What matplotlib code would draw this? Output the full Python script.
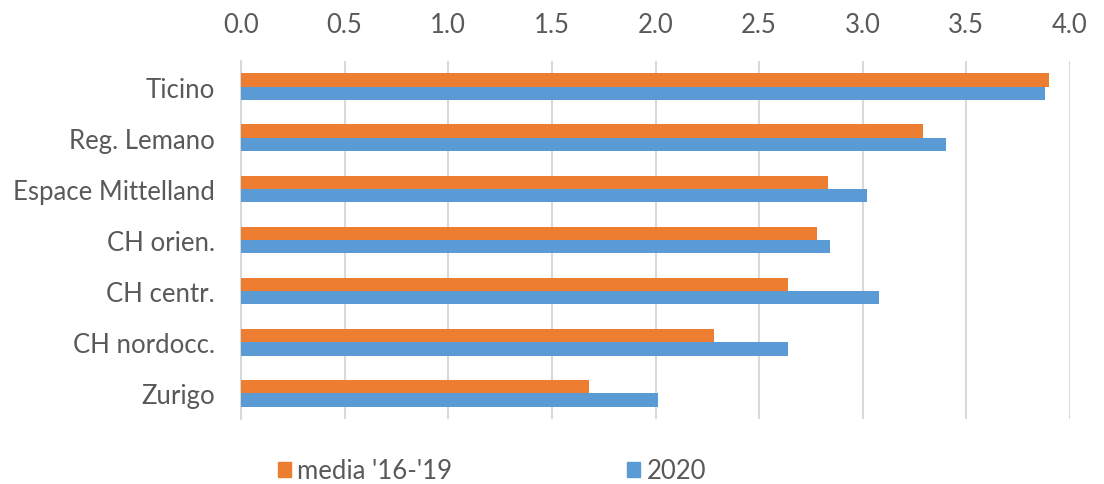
import matplotlib.pyplot as plt
import numpy as np
from matplotlib.patches import Patch

# ===== DATA =====
regioni = ["Ticino", "Reg. Lemano", "Espace Mittelland", "CH orien.",
           "CH centr.", "CH nordocc.", "Zurigo"]
media_16_19 = [3.90, 3.29, 2.83, 2.78, 2.64, 2.28, 1.68]
anno_2020 = [3.88, 3.40, 3.02, 2.84, 3.08, 2.64, 2.01]
xticks = [0.0, 0.5, 1.0, 1.5, 2.0, 2.5, 3.0, 3.5, 4.0]

col_orange = '#ED7D31'
col_blue = '#5B9BD5'
col_text = '#595959'

plt.rcParams['font.family'] = ['Lato', 'DejaVu Sans']

fig = plt.figure(figsize=(11.04, 4.85), dpi=100)
ax = fig.add_axes([0.2183, 0.134, 0.7509, 0.738])

y = np.arange(len(regioni))
h = 0.26
ax.barh(y - h / 2, media_16_19, height=h, color=col_orange, zorder=3)
ax.barh(y + h / 2, anno_2020, height=h, color=col_blue, zorder=3)

ax.set_ylim(len(regioni) - 0.5, -0.5)
ax.set_xlim(0, 4.0)
ax.set_yticks(y)
ax.set_yticklabels(regioni)
ax.set_xticks(xticks)
ax.set_xticklabels([f"{v:.1f}" for v in xticks])

ax.xaxis.tick_top()
ax.tick_params(axis='both', length=0, labelsize=18.5, colors=col_text)
ax.tick_params(axis='x', pad=17)
ax.tick_params(axis='y', pad=19)

ax.grid(True, axis='x', color='#d9d9d9', linewidth=1.5, zorder=0)
for s in ['top', 'right', 'bottom']:
    ax.spines[s].set_visible(False)
ax.spines['left'].set_color('#d9d9d9')
ax.spines['left'].set_linewidth(1.5)

handles = [Patch(color=col_orange, label="media '16-'19"),
           Patch(color=col_blue, label="2020")]
fig.legend(handles=handles, loc='center left', bbox_to_anchor=(0.252, 0.027), ncol=2,
           frameon=False, fontsize=18.5, handlelength=0.5, handleheight=0.5,
           handletextpad=0.25, columnspacing=6.8, labelcolor=col_text,
           borderpad=0, borderaxespad=0)

plt.savefig("out.png", dpi=100)
